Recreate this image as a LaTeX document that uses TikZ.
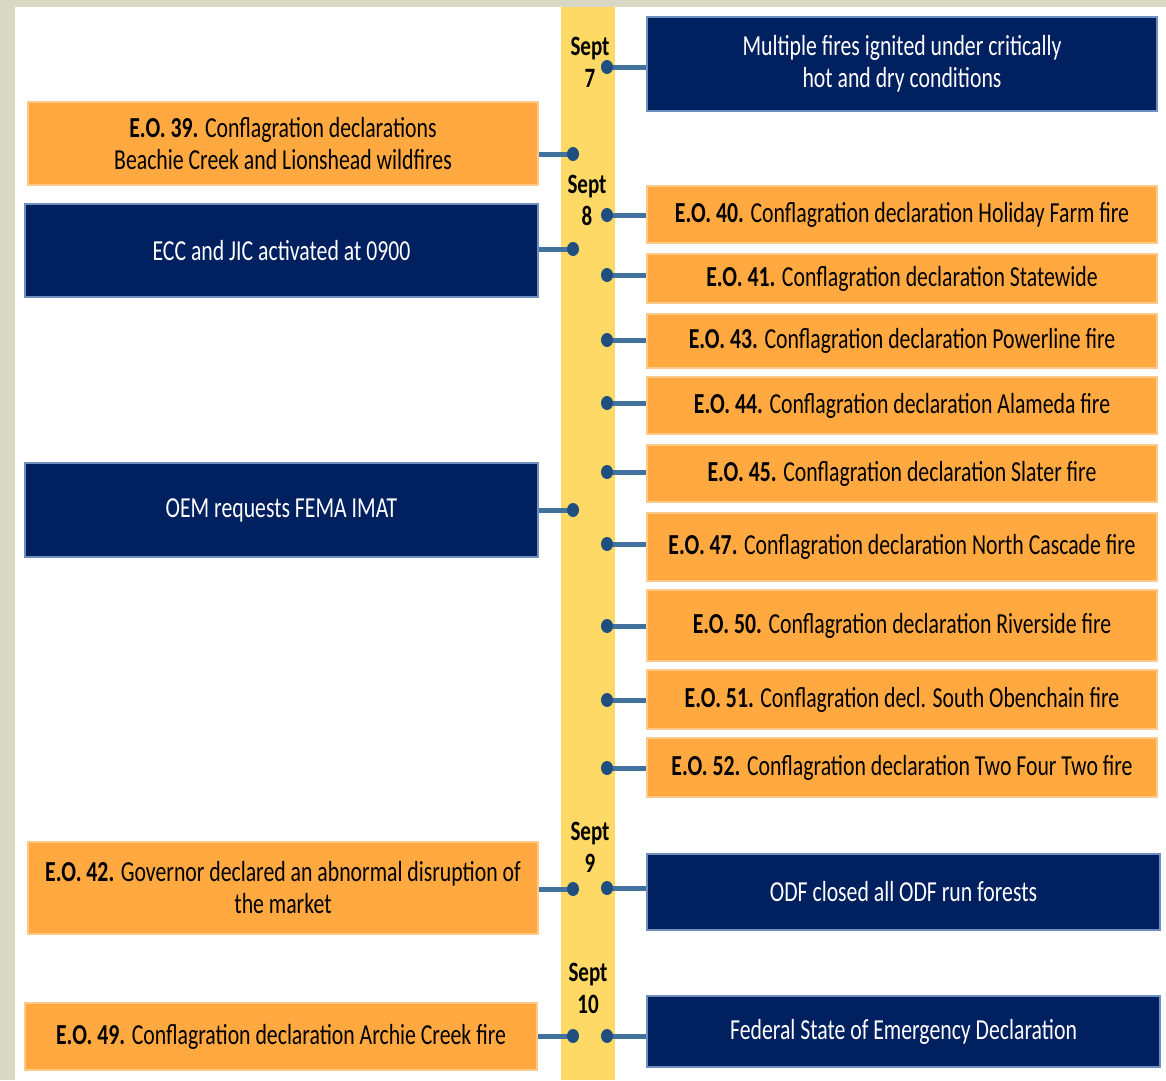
\documentclass[tikz,border=0pt]{standalone}
\usepackage{fontspec}
\usetikzlibrary{shapes.geometric}
\setmainfont{Carlito}[FakeStretch=0.75]
\begin{document}
\begin{tikzpicture}[x=1pt,y=-1pt,
  navybox/.style={draw=navyedge, line width=1.2pt, fill=navy, text=white, align=center, inner sep=0pt, font=\fontsize{29}{32}\selectfont},
  orangebox/.style={draw=orangeedge, line width=1.2pt, fill=orangefill, text=black, align=center, inner sep=0pt, font=\fontsize{29}{32}\selectfont},
  dot/.style={ellipse, fill=dotblue, inner sep=0pt, minimum width=12pt, minimum height=14pt},
  link/.style={draw=lineblue, line width=5pt},
  datelabel/.style={align=center, inner sep=0pt, font=\bfseries\fontsize{28}{32}\selectfont}
]
\definecolor{navy}{HTML}{002060}
\definecolor{navyedge}{HTML}{6F8FBF}
\definecolor{orangefill}{HTML}{FFA940}
\definecolor{orangeedge}{HTML}{FFC98A}
\definecolor{bandyellow}{HTML}{FFD966}
\definecolor{framegray}{HTML}{D9D8C5}
\definecolor{dotblue}{HTML}{1F4F7F}
\definecolor{lineblue}{HTML}{41719C}
\useasboundingbox (0,0) rectangle (1166,1080);
\fill[framegray] (0,0) rectangle (1166,1080);
\fill[white] (15,7) rectangle (1166,1080);
\fill[bandyellow] (561,7) rectangle (615,1080);

% right boxes
\node[navybox, minimum width=510pt, minimum height=94pt] (r1) at (902,64) {Multiple fires ignited under critically\\hot and dry conditions};
\node[orangebox, minimum width=510pt, minimum height=57pt] (eo40) at (902,214.5) {\textbf{E.O. 40.} Conflagration declaration Holiday Farm fire};
\node[orangebox, minimum width=510pt, minimum height=49pt] (eo41) at (902,278.5) {\textbf{E.O. 41.} Conflagration declaration Statewide};
\node[orangebox, minimum width=510pt, minimum height=54pt] (eo43) at (902,341) {\textbf{E.O. 43.} Conflagration declaration Powerline fire};
\node[orangebox, minimum width=510pt, minimum height=57pt] (eo44) at (902,405.5) {\textbf{E.O. 44.} Conflagration declaration Alameda fire};
\node[orangebox, minimum width=510pt, minimum height=57pt] (eo45) at (902,473.5) {\textbf{E.O. 45.} Conflagration declaration Slater fire};
\node[orangebox, minimum width=510pt, minimum height=68pt] (eo47) at (902,547) {\textbf{E.O. 47.} Conflagration declaration North Cascade fire};
\node[orangebox, minimum width=510pt, minimum height=71pt] (eo50) at (902,625.5) {\textbf{E.O. 50.} Conflagration declaration Riverside fire};
\node[orangebox, minimum width=510pt, minimum height=59pt] (eo51) at (902,699.5) {\textbf{E.O. 51.} Conflagration decl. South Obenchain fire};
\node[orangebox, minimum width=510pt, minimum height=59pt] (eo52) at (902,767.5) {\textbf{E.O. 52.} Conflagration declaration Two Four Two fire};
\node[navybox, minimum width=513pt, minimum height=76pt] (odf) at (903.5,892) {ODF closed all ODF run forests};
\node[navybox, minimum width=513pt, minimum height=71pt] (fed) at (903.5,1031.5) {Federal State of Emergency Declaration};

% left boxes
\node[orangebox, minimum width=510pt, minimum height=83pt] (eo39) at (283,143.5) {\textbf{E.O. 39.} Conflagration declarations\\Beachie Creek and Lionshead wildfires};
\node[navybox, minimum width=513pt, minimum height=93pt] (ecc) at (281.5,250.5) {ECC and JIC activated at 0900};
\node[navybox, minimum width=513pt, minimum height=94pt] (oem) at (281.5,510) {OEM requests FEMA IMAT};
\node[orangebox, minimum width=510pt, minimum height=92pt] (eo42) at (283,888) {\textbf{E.O. 42.} Governor declared an abnormal disruption of\\the market};
\node[orangebox, minimum width=512pt, minimum height=67pt] (eo49) at (281,1036.5) {\textbf{E.O. 49.} Conflagration declaration Archie Creek fire};

% date labels
\node[datelabel] (d7) at (590,62) {Sept\\7};
\node[datelabel] (d8) at (587,200) {Sept\\8};
\node[datelabel] (d9) at (590,847) {Sept\\9};
\node[datelabel] (d10) at (588,988) {Sept\\10};

% right dots and links
\foreach \n/\y in {r1/67, eo40/215, eo41/275, eo43/340, eo44/403, eo45/472, eo47/544, eo50/626, eo51/700, eo52/768, odf/888, fed/1036} {
  \coordinate (dot-\n) at (607,\y);
  \draw[link] (dot-\n) -- (dot-\n -| \n.west);
  \node[dot] at (dot-\n) {};
}
% left dots and links
\foreach \n/\y in {eo39/154, ecc/249, oem/510, eo42/889, eo49/1036} {
  \coordinate (dot-\n) at (573,\y);
  \draw[link] (dot-\n) -- (dot-\n -| \n.east);
  \node[dot] at (dot-\n) {};
}
\end{tikzpicture}
\end{document}
